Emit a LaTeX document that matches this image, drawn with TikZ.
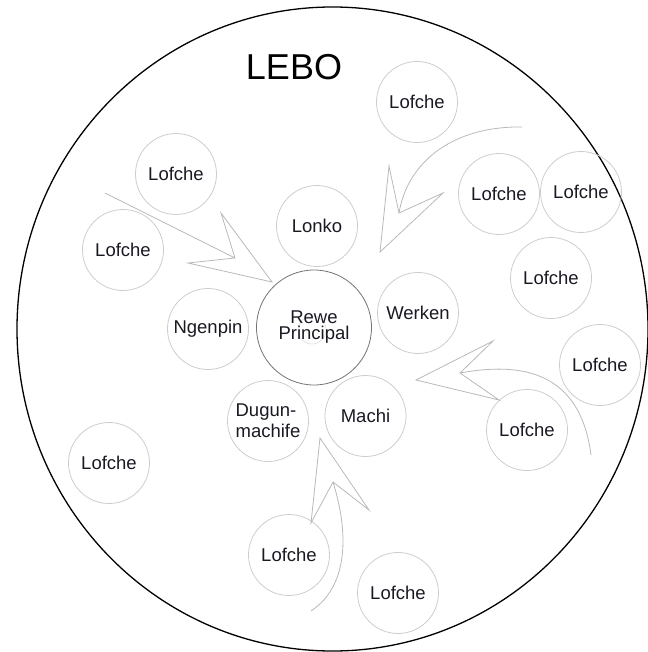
\documentclass[tikz,border=0pt]{standalone}
\usepackage{fontspec}
\setmainfont{Liberation Sans}
\definecolor{ringgray}{RGB}{205,205,205}
\definecolor{arrowgray}{RGB}{185,185,185}
\definecolor{rewegray}{RGB}{115,115,115}
\definecolor{txt}{RGB}{25,25,35}
\tikzset{
  ring/.style={circle, draw=ringgray, line width=0.8pt, minimum size=81pt,
    inner sep=0pt, text=txt, font=\fontsize{18.5}{21}\selectfont},
  shaft/.style={draw=arrowgray, line width=0.8pt, line join=miter},
}
\begin{document}
\begin{tikzpicture}[x=1pt,y=-1pt]
\useasboundingbox (0,0) rectangle (647,652);
\draw[line width=1.3pt] (332.5,329) ellipse [x radius=315.5, y radius=322];
\node[text=black, font=\fontsize{36}{36}\selectfont] (lebo) at (294,67) {LEBO};
% centre
\draw[ringgray!70, line width=0.6pt] (312,330) circle[radius=14];
\node[ring, draw=rewegray, minimum size=115pt, align=center,
  font=\fontsize{18.5}{16}\selectfont] (rewe) at (314,327.5) {Rewe\\Principal};
\node[ring] (lonko) at (317,226) {Lonko};
\node[ring] (werken) at (418,313) {Werken};
\node[ring] (ngenpin) at (208,329) {Ngenpin};
\node[ring, align=left] (dugun) at (268,421) {Dugun-\\machife};
\node[ring] (machi) at (365.5,416) {Machi};
% lofche
\node[ring] (lof1) at (417,102) {Lofche};
\node[ring] (lof2) at (176,174) {Lofche};
\node[ring] (lof3) at (123,250) {Lofche};
\node[ring] (lof4) at (499,194) {Lofche};
\node[ring] (lof5) at (581,192) {Lofche};
\node[ring] (lof6) at (551,278) {Lofche};
\node[ring] (lof7) at (600,365) {Lofche};
\node[ring] (lof8) at (527,430) {Lofche};
\node[ring] (lof9) at (109,463) {Lofche};
\node[ring] (lof10) at (289,555) {Lofche};
\node[ring] (lof11) at (398,593) {Lofche};
% arrow from the upper left
\coordinate (as) at (105,193);
\coordinate (an) at (235,258);
\coordinate (at) at (272,282);
\coordinate (ab1) at (221,213);
\coordinate (ab2) at (188,263);
\draw[shaft] (as)--(an) (ab1)--(at)--(ab2)--(an)--cycle;
% arrow from the upper right
\coordinate (bs) at (522,127);
\coordinate (bn) at (399,213);
\coordinate (bt) at (380,252);
\coordinate (bb1) at (389,166);
\coordinate (bb2) at (443,193);
\draw[shaft] (bs) .. controls (455,126) and (408,160) .. (bn)
  (bb1)--(bt)--(bb2)--(bn)--cycle;
% arrow from the right
\coordinate (cs) at (591,455);
\coordinate (cn) at (460,373);
\coordinate (ct) at (416,380);
\coordinate (cb1) at (493,341);
\coordinate (cb2) at (499,400);
\draw[shaft] (cn) .. controls (520,362) and (580,370) .. (cs)
  (cb1)--(ct)--(cb2)--(cn)--cycle;
% arrow from below
\coordinate (ds) at (311,611);
\coordinate (dn) at (333,482);
\coordinate (dt) at (320,438);
\coordinate (db1) at (311,523);
\coordinate (db2) at (369,510);
\draw[shaft] (dn) .. controls (348,530) and (350,585) .. (ds)
  (db1)--(dt)--(db2)--(dn)--cycle;
\end{tikzpicture}
\end{document}
